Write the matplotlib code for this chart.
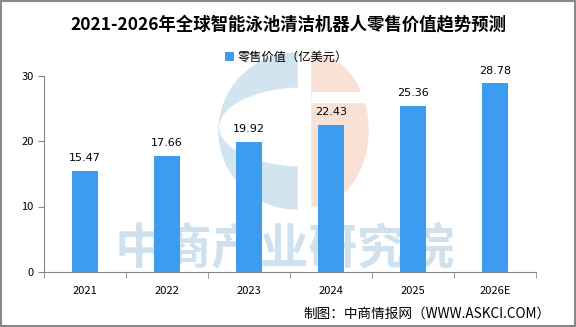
import matplotlib
matplotlib.use("Agg")
import numpy as np
import matplotlib.pyplot as plt
from matplotlib.patches import Wedge, Ellipse, Polygon, Rectangle

plt.rcParams['font.family'] = ['Noto Sans CJK SC', 'DejaVu Sans']

years = ["2021", "2022", "2023", "2024", "2025", "2026E"]
values = [15.47, 17.66, 19.92, 22.43, 25.36, 28.78]
yticks = [0, 10, 20, 30]

W, H = 576, 327
fig = plt.figure(figsize=(5.76, 3.27), dpi=100)

# watermark layer in pixel coordinates
wm = fig.add_axes([0, 0, 1, 1], zorder=0)
wm.set_xlim(0, W); wm.set_ylim(H, 0); wm.axis('off')
blue_wm = '#d2e4ef'
peach_wm = '#fae1d6'
wm.add_patch(Wedge((297, 131), 78, 90, 270, color=blue_wm))
wm.add_patch(Ellipse((305, 127), 170, 78, color='white'))
t = np.linspace(-np.pi / 2, np.pi / 2, 60)
pts = np.column_stack([312 + 56 * np.cos(t), 130 + 76 * np.sin(t)])
wm.add_patch(Polygon(pts, closed=True, color=peach_wm))
wm.add_patch(Rectangle((312, 92), 60, 10, color='white'))
wm.text(285, 250, '中商产业研究院', ha='center', va='center', fontsize=35, fontweight='bold',
        color='#cfe1ee')

ax = fig.add_axes([44 / W, 1 - 272 / H, (536 - 44) / W, (272 - 75.5) / H], zorder=1)
ax.patch.set_alpha(0)

x = np.arange(len(years))
ax.bar(x, values, width=0.31, color='#3d9cf0', label='零售价值（亿美元）', zorder=2)
for i, v in enumerate(values):
    ax.text(i, v + 1.2, f"{v:.2f}", ha='center', va='bottom', fontsize=8, family='DejaVu Sans')

ax.set_xlim(-0.5, len(years) - 0.5)
ax.set_ylim(0, 30)
ax.set_yticks(yticks)
ax.set_yticklabels([str(t) for t in yticks], fontsize=8)
ax.set_xticks(list(x))
ax.set_xticklabels(years, fontsize=8)
ax.tick_params(axis='x', length=0, pad=10)
ax.set_xticks([i + 0.5 for i in range(-1, len(years))], minor=True)
ax.tick_params(axis='x', which='minor', length=4, color='#888888')
ax.tick_params(axis='y', length=4, color='#888888')
for s in ['top', 'right']:
    ax.spines[s].set_visible(False)
for s in ['left', 'bottom']:
    ax.spines[s].set_color('#888888')

fig.text(0.5, 1 - 24 / H, '2021-2026年全球智能泳池清洁机器人零售价值趋势预测', ha='center', va='center',
         fontsize=12.5, fontweight='bold')
ax.legend(loc='center', bbox_to_anchor=(0.497, 1 - 57 / H), bbox_transform=fig.transFigure,
          frameon=False, fontsize=8.8, handlelength=0.7, handleheight=0.7, handletextpad=0.3)
fig.text(551 / W, 1 - 314 / H, '制图：中商情报网（WWW.ASKCI.COM）', ha='right', va='center', fontsize=9.8)

fig.patches.append(Rectangle((0.001, 0.002), 0.997, 0.995, transform=fig.transFigure,
                             fill=False, edgecolor='#888888', linewidth=1.5))
fig.savefig('out.png', dpi=100)
